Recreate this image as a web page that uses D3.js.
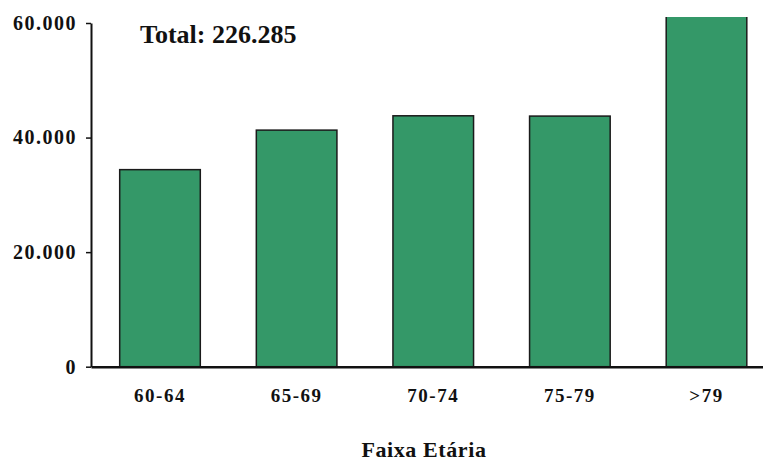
<!DOCTYPE html>
<html>
<head>
<meta charset="utf-8">
<script src="https://cdn.jsdelivr.net/npm/d3@7"></script>
<style>
  body { margin: 0; background: #fff; }
  svg { display: block; font-family: "Liberation Serif", "Times New Roman", serif; font-weight: bold; }
  .axis text { fill: #111; }
  .axis path, .axis line { stroke: #111; }
</style>
</head>
<body>
<svg id="chart"></svg>
<script>
// age groups and counts
const categories = ["60-64", "65-69", "70-74", "75-79", ">79"];
const values = [34400, 41300, 43800, 43750, 62900];
const yTicks = [0, 20000, 40000, 60000];
const totalLabel = "Total: 226.285";
const xTitle = "Faixa Etária";

const width = 763, height = 462;
const plotLeft = 91, plotTop = 23, plotBottom = 366.7;

const svg = d3.select("#chart").attr("width", width).attr("height", height);

const x = d3.scaleBand()
    .domain(categories)
    .range([plotLeft, 775.5])
    .paddingInner(0.41)
    .paddingOuter(0.21);

const y = d3.scaleLinear().domain([0, 60000]).range([plotBottom, plotTop]);

const fmt = (d) => d === 0 ? "0" : d3.format(",")(d).replace(/,/g, ".");

// plot area is cut off a little above the top tick
svg.append("clipPath").attr("id", "plot")
    .append("rect")
    .attr("x", 0).attr("y", 17)
    .attr("width", width).attr("height", height);

svg.append("g")
    .attr("clip-path", "url(#plot)")
    .selectAll("rect")
    .data(values)
    .enter().append("rect")
    .attr("x", (d, i) => x(categories[i]))
    .attr("y", (d) => y(d))
    .attr("width", x.bandwidth())
    .attr("height", (d) => y(0) - y(d))
    .attr("fill", "#349868")
    .attr("stroke", "#1a1a1a")
    .attr("stroke-width", 1.5);

// y axis
const yAxis = svg.append("g")
    .attr("class", "axis")
    .attr("transform", "translate(" + plotLeft + ",0)")
    .call(d3.axisLeft(y).tickValues(yTicks).tickFormat(fmt).tickSize(5).tickSizeOuter(0).tickPadding(9))
    .attr("font-family", null)
    .attr("font-size", 20);
yAxis.select(".domain").attr("stroke-width", 2);
yAxis.selectAll(".tick line").attr("stroke-width", 1.5);
yAxis.selectAll("text").attr("letter-spacing", "1.5px");

// x axis
const xAxis = svg.append("g")
    .attr("class", "axis")
    .attr("transform", "translate(0," + plotBottom + ")")
    .call(d3.axisBottom(x).tickSize(0).tickSizeOuter(0).tickPadding(22))
    .attr("font-family", null)
    .attr("font-size", 19);
xAxis.select(".domain").attr("stroke-width", 2.5);
xAxis.selectAll("text").attr("letter-spacing", "1.5px");

// total label
svg.append("text")
    .attr("x", 140)
    .attr("y", 43)
    .attr("font-size", 26)
    .attr("fill", "#111")
    .text(totalLabel);

// axis title
svg.append("text")
    .attr("x", 424)
    .attr("y", 457)
    .attr("text-anchor", "middle")
    .attr("font-size", 22)
    .attr("letter-spacing", "0.6px")
    .attr("fill", "#111")
    .text(xTitle);
</script>
</body>
</html>
